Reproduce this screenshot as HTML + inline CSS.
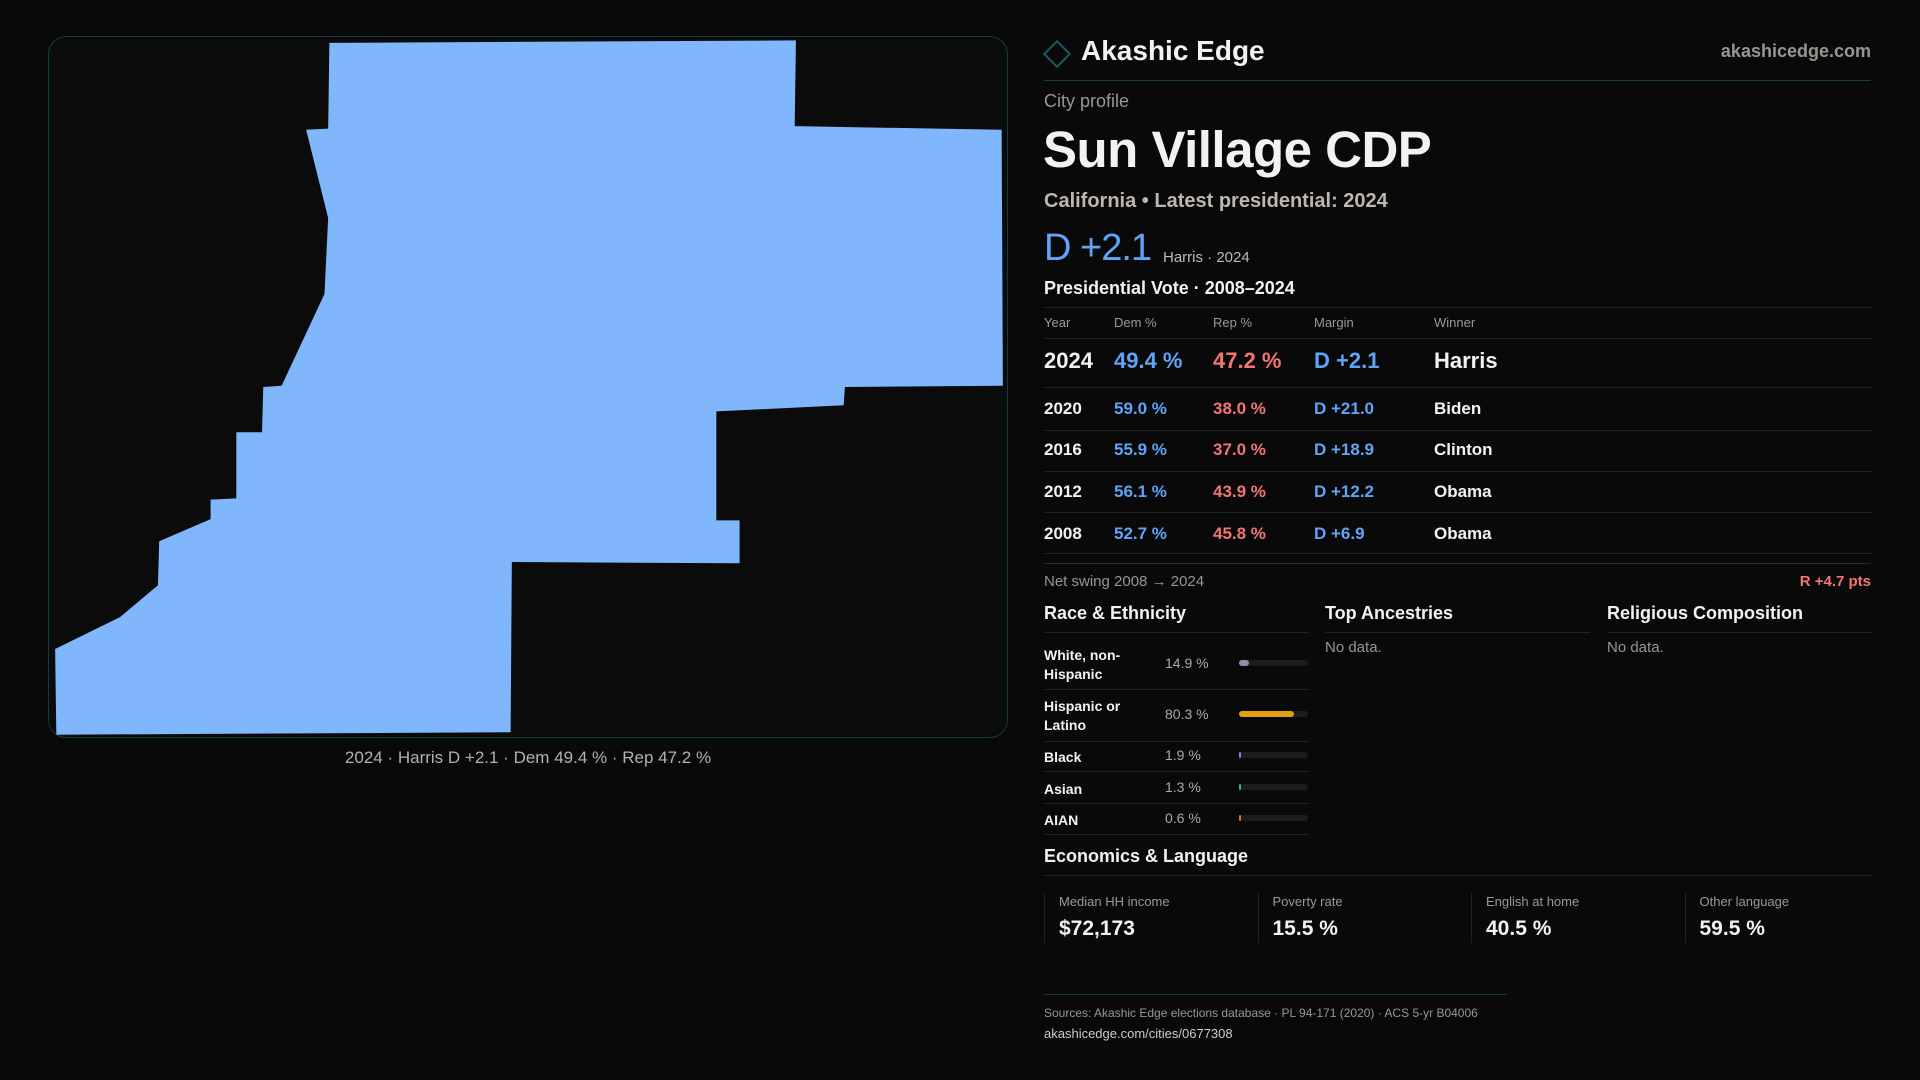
<!DOCTYPE html>
<html><head><meta charset="utf-8"><style>
*{margin:0;padding:0;box-sizing:border-box}
body{width:1920px;height:1080px;background:#0a0909;font-family:"Liberation Sans",sans-serif;color:#f2f2f2;position:relative;overflow:hidden}
.a{position:absolute;white-space:nowrap;line-height:1}
.hl{position:absolute;height:1px;background:#222}
.blue{color:#5ea4f7}.red{color:#f27575}.grey{color:#9a9590}
</style></head><body>
<div class="a" style="left:48px;top:36px;width:960px;height:702px;border:1px solid #123a44;border-radius:18px;background:#0c0b0b"></div>
<svg style="position:absolute;left:0;top:0" width="1920" height="1080" viewBox="0 0 1568 882">
<polygon fill="#80b6fc" points="269,35 650,33 649,103 818,106 819,315 690,316 689,331 585,336 585,425 604,425 604,460 418,459 417,598 46,600 45,530 98,504 129,478 130,442 172,424 172,408 193,407 193,353 214,353 215,316 230,315 265,240 268,178 250,106 268,105"/>
</svg>
<div class="a grey" style="left:528px;top:749px;transform:translateX(-50%);font-size:17px;color:#b5b0aa">2024 · Harris D +2.1 · Dem 49.4 % · Rep 47.2 %</div>

<div class="a" style="left:1047px;top:44px;width:20px;height:20px;border:2px solid #1a5a66;transform:rotate(45deg)"></div>
<div class="a" style="left:1081px;top:37px;font-size:28px;font-weight:bold">Akashic Edge</div>
<div class="a grey" style="right:49px;top:42px;font-size:18px;font-weight:bold">akashicedge.com</div>
<div class="hl" style="left:1044px;top:80px;width:827px;background:#173a40"></div>
<div class="a grey" style="left:1044px;top:92px;font-size:18px">City profile</div>
<div class="a" style="left:1043px;top:124px;font-size:51px;font-weight:bold;letter-spacing:-0.5px">Sun Village CDP</div>
<div class="a" style="left:1044px;top:191px;font-size:20px;font-weight:bold;color:#bdb7b0">California • Latest presidential: 2024</div>
<div class="a blue" style="left:1044px;top:229px;font-size:38px;letter-spacing:-1px">D +2.1</div>
<div class="a" style="left:1163px;top:250px;font-size:15px;color:#bbb">Harris · 2024</div>
<div class="a" style="left:1044px;top:279px;font-size:18px;font-weight:bold">Presidential Vote · 2008–2024</div>
<div class="hl" style="left:1044px;top:307px;width:827px"></div>
<div id="tbl"></div>
<div class="hl" style="left:1044px;top:563px;width:827px;background:#2a2a2a"></div>
<div class="a grey" style="left:1044px;top:574px;font-size:15px">Net swing 2008 → 2024</div>
<div class="a red" style="right:49px;top:574px;font-size:15px;font-weight:bold">R +4.7 pts</div>

<div class="a" style="left:1044px;top:604px;font-size:18px;font-weight:bold">Race &amp; Ethnicity</div>
<div class="a" style="left:1325px;top:604px;font-size:18px;font-weight:bold">Top Ancestries</div>
<div class="a" style="left:1607px;top:604px;font-size:18px;font-weight:bold">Religious Composition</div>
<div class="hl" style="left:1044px;top:632px;width:265px"></div>
<div class="hl" style="left:1325px;top:632px;width:265px"></div>
<div class="hl" style="left:1607px;top:632px;width:264px"></div>
<div class="a grey" style="left:1325px;top:640px;font-size:15px">No data.</div>
<div class="a grey" style="left:1607px;top:640px;font-size:15px">No data.</div>
<div id="race"></div>

<div class="a" style="left:1044px;top:847px;font-size:18px;font-weight:bold">Economics &amp; Language</div>
<div class="hl" style="left:1044px;top:875px;width:827px"></div>
<div id="econ"></div>

<div class="hl" style="left:1044px;top:994px;width:463px;background:#173a40"></div>
<div class="a grey" style="left:1044px;top:1007px;font-size:12px">Sources: Akashic Edge elections database · PL 94-171 (2020) · ACS 5-yr B04006</div>
<div class="a" style="left:1044px;top:1027px;font-size:13px;color:#ccc">akashicedge.com/cities/0677308</div>

<script>
const years=['2024','2020','2016','2012','2008'];
const demPct=[49.4,59.0,55.9,56.1,52.7];
const repPct=[47.2,38.0,37.0,43.9,45.8];
const margins=[2.1,21.0,18.9,12.2,6.9];
const winners=['Harris','Biden','Clinton','Obama','Obama'];
const raceLabels=['White, non-\nHispanic','Hispanic or\nLatino','Black','Asian','AIAN'];
const raceValues=[14.9,80.3,1.9,1.3,0.6];
const raceColors=['#8a93a5','#e0a010','#8f7de0','#2fb890','#d07a20'];
const econLabels=['Median HH income','Poverty rate','English at home','Other language'];
const econValues=['$72,173','15.5 %','40.5 %','59.5 %'];

function add(parent,html,style,name,inter){const d=document.createElement('div');d.className='a';d.innerHTML=html;d.style.cssText=style;


parent.appendChild(d);return d;}
const tbl=document.getElementById('tbl');
const cols=[1044,1114,1213,1314,1434];
['Year','Dem %','Rep %','Margin','Winner'].forEach((h,i)=>add(tbl,h,`left:${cols[i]}px;top:316px;font-size:13px;color:#999`,'table-header',false));
const hl=(p,y,w,x)=>{add(p,'',`left:${x||1044}px;top:${y}px;width:${w||827}px;height:1px;background:#222`,'row-rule',false);};
hl(tbl,338);
const rowY=[361,408,449,491,533];
years.forEach((y,i)=>{const big=i===0;const fs=big?22:17;const top=rowY[i]-fs/2;
const m=margins[i];const ms=(m>=0?'D +':'R +')+Math.abs(m).toFixed(1);
add(tbl,y,`left:${cols[0]}px;top:${top}px;font-size:${fs}px;font-weight:bold`,'year-cell',false);
add(tbl,demPct[i].toFixed(1)+' %',`left:${cols[1]}px;top:${top}px;font-size:${fs}px;font-weight:bold;color:#5ea4f7`,'dem-cell',false);
add(tbl,repPct[i].toFixed(1)+' %',`left:${cols[2]}px;top:${top}px;font-size:${fs}px;font-weight:bold;color:#f27575`,'rep-cell',false);
add(tbl,ms,`left:${cols[3]}px;top:${top}px;font-size:${fs}px;font-weight:bold;color:${m>=0?'#5ea4f7':'#f27575'}`,'margin-cell',false);
add(tbl,winners[i],`left:${cols[4]}px;top:${top}px;font-size:${fs}px;font-weight:bold`,'winner-cell',false);
});
[387,430,471,512,553].forEach(y=>hl(tbl,y));
const race=document.getElementById('race');
const rCenters=[663,714,755,787,818];const rLines=[689,741,771,803,834];
const barX=1239,barW=69;
raceLabels.forEach((l,i)=>{const two=l.includes('\n');
add(race,l.replace('\n','<br>'),`left:1044px;top:${rCenters[i]-(two?17:7)}px;font-size:14px;font-weight:bold;line-height:19px`,'race-label',false);
add(race,raceValues[i].toFixed(1)+' %',`left:1165px;top:${rCenters[i]-7}px;font-size:14px;color:#aaa`,'race-pct',false);
add(race,'',`left:${barX}px;top:${rCenters[i]-3}px;width:${barW}px;height:6px;border-radius:3px;background:#1c1c1e`,'race-bar-track',false);
add(race,'',`left:${barX}px;top:${rCenters[i]-3}px;width:${Math.max(2,barW*raceValues[i]/100)}px;height:6px;border-radius:3px;background:${raceColors[i]}`,'race-bar',true);
hl(race,rLines[i],265);
});
const econ=document.getElementById('econ');
econLabels.forEach((l,i)=>{const x=1044+i*213.5;
add(econ,'',`left:${x}px;top:893px;width:1px;height:50px;background:#222`,'stat-divider',false);
add(econ,l,`left:${x+15}px;top:895px;font-size:13px;color:#999`,'stat-label',false);
add(econ,econValues[i],`left:${x+15}px;top:918px;font-size:21px;font-weight:bold`,'stat-value',false);
});
</script>
</body></html>
